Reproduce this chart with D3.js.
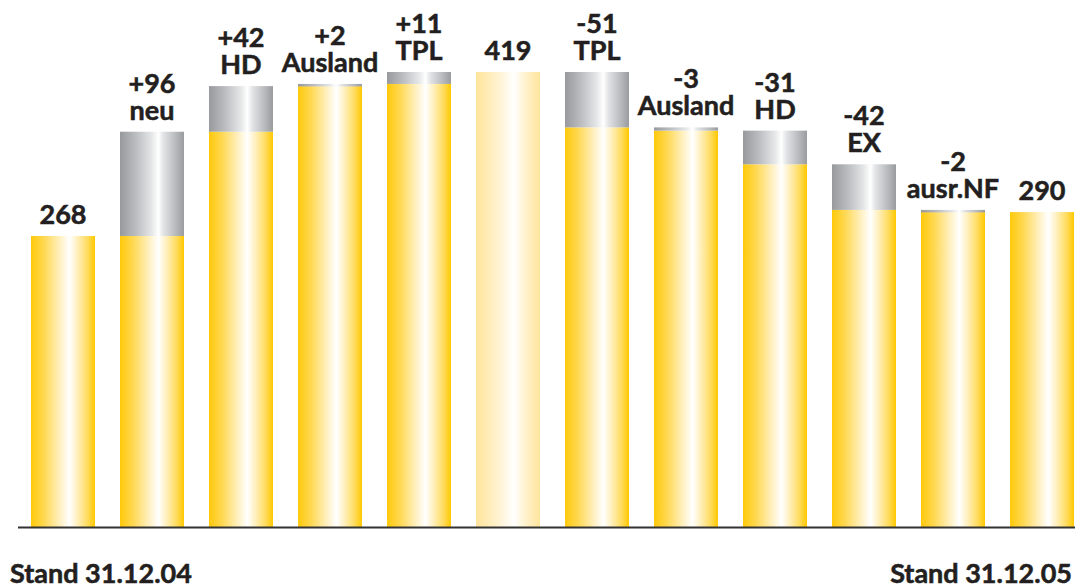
<!DOCTYPE html>
<html>
<head>
<meta charset="utf-8">
<script src="https://cdn.jsdelivr.net/npm/d3@7"></script>
<style>
  html, body { margin: 0; padding: 0; background: #fff; }
  svg { display: block; }
  text { font-family: Lato, "Open Sans", sans-serif; font-weight: 700; fill: #231f20; stroke: #231f20; stroke-width: 0.55px; }
</style>
</head>
<body>
<svg id="chart" width="1075" height="588"></svg>
<script>
// ---- data ----
const categories = ["Stand 31.12.04", "neu", "HD", "Ausland", "TPL", "Zwischenstand", "TPL", "Ausland", "HD", "EX", "ausr.NF", "Stand 31.12.05"];
const values = [268, 96, 42, 2, 11, 419, -51, -3, -31, -42, -2, 290];
const kinds = ["total", "delta", "delta", "delta", "delta", "subtotal", "delta", "delta", "delta", "delta", "delta", "total"];
const valueLabels = ["268", "+96", "+42", "+2", "+11", "419", "-51", "-3", "-31", "-42", "-2", "290"];
const subLabels = ["", "neu", "HD", "Ausland", "TPL", "", "TPL", "Ausland", "HD", "EX", "ausr.NF", ""];
const endLabels = ["Stand 31.12.04", "Stand 31.12.05"];

// ---- build segments ----
let level = 0;
const bars = values.map((v, i) => {
  if (kinds[i] !== "delta") {
    level = v;
    return { i, base: v, lo: v, hi: v, kind: kinds[i] };
  }
  const prev = level;
  level = prev + v;
  return { i, base: Math.min(prev, level), lo: Math.min(prev, level), hi: Math.max(prev, level), kind: "delta" };
});

const svg = d3.select("#chart");
const x = d3.scaleBand().domain(d3.range(values.length)).range([31, 1074]).paddingInner(0.281).paddingOuter(0);
const y = d3.scaleLinear().domain([0, 419]).range([527, 72]);

// ---- gradients ----
const defs = svg.append("defs");
function grad(id, stops) {
  const g = defs.append("linearGradient").attr("id", id).attr("x1", "0").attr("x2", "1").attr("y1", "0").attr("y2", "0");
  stops.forEach(s => g.append("stop").attr("offset", s[0]).attr("stop-color", s[1]));
}
grad("gYellow", [[0, "#ffc90a"], [0.2, "#ffd850"], [0.45, "#fff0c0"], [0.6, "#ffffff"], [0.7, "#fff3cc"], [0.88, "#ffdc60"], [1, "#ffc800"]]);
grad("gPale", [[0, "#ffe49a"], [0.3, "#fff0c8"], [0.6, "#ffffff"], [0.75, "#fff3d2"], [1, "#ffe49c"]]);
grad("gGray", [[0, "#98999d"], [0.25, "#bcbdc1"], [0.5, "#e6e7e8"], [0.6, "#ffffff"], [0.68, "#e2e3e5"], [0.85, "#bdbec1"], [1, "#9a9b9f"]]);

// ---- yellow base bars ----
svg.append("g").selectAll("rect.base").data(bars).join("rect")
  .attr("class", "base")
  .attr("x", d => x(d.i))
  .attr("width", x.bandwidth())
  .attr("y", d => y(d.base))
  .attr("height", d => y(0) - y(d.base))
  .attr("fill", d => d.kind === "subtotal" ? "url(#gPale)" : "url(#gYellow)");

// ---- gray change segments ----
svg.append("g").selectAll("rect.delta").data(bars.filter(d => d.kind === "delta")).join("rect")
  .attr("class", "delta")
  .attr("x", d => x(d.i))
  .attr("width", x.bandwidth())
  .attr("y", d => y(d.hi))
  .attr("height", d => Math.max(2.5, y(d.lo) - y(d.hi)))
  .attr("fill", "url(#gGray)");

// ---- baseline ----
svg.append("line")
  .attr("x1", 18).attr("x2", 1075)
  .attr("y1", y(0) + 0.5).attr("y2", y(0) + 0.5)
  .attr("stroke", "#333333").attr("stroke-width", 2);

// ---- labels ----
const gap = 12, lh = 27;
const lab = svg.append("g").attr("font-size", 27).attr("text-anchor", "middle");
bars.forEach(d => {
  const cx = x(d.i) + x.bandwidth() / 2;
  const top = y(d.hi);
  if (subLabels[d.i]) {
    lab.append("text").attr("x", cx).attr("y", top - gap).text(subLabels[d.i]);
    lab.append("text").attr("x", cx).attr("y", top - gap - lh).text(valueLabels[d.i]);
  } else {
    lab.append("text").attr("x", cx).attr("y", top - gap).text(valueLabels[d.i]);
  }
});

// ---- end labels ----
svg.append("text").attr("x", 10).attr("y", 583).attr("font-size", 27).attr("text-anchor", "start").text(endLabels[0]);
svg.append("text").attr("x", 1072).attr("y", 583).attr("font-size", 27).attr("text-anchor", "end").text(endLabels[1]);
</script>
</body>
</html>
